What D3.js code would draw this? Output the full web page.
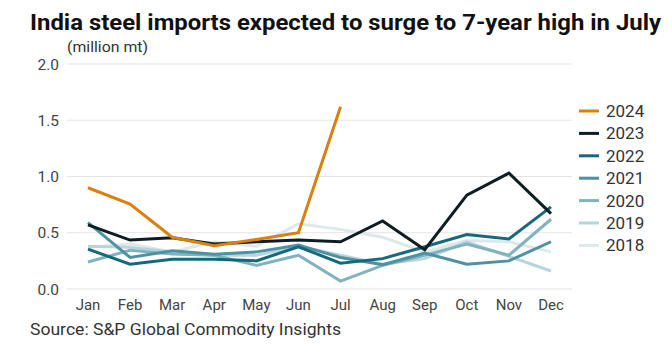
<!DOCTYPE html>
<html><head><meta charset="utf-8">
<script src="https://cdn.jsdelivr.net/npm/d3@7"></script>
<style>body{margin:0;background:#fff}svg{display:block}</style>
</head><body>
<svg id="c" width="672" height="347"></svg>
<script>
const months = ["Jan","Feb","Mar","Apr","May","Jun","Jul","Aug","Sep","Oct","Nov","Dec"];
const yTicks = [0, 0.5, 1.0, 1.5, 2.0];
const years = ["2024","2023","2022","2021","2020","2019","2018"];
const colors = ["#d9800f","#0e1d22","#16687d","#4d91a2","#80b2c0","#b7d4dd","#dbe8ec"];
const v2024 = [0.90, 0.755, 0.46, 0.385, 0.44, 0.50, 1.62];
const v2023 = [0.57, 0.435, 0.455, 0.40, 0.42, 0.435, 0.42, 0.605, 0.35, 0.835, 1.03, 0.67];
const v2022 = [0.355, 0.22, 0.265, 0.265, 0.25, 0.375, 0.23, 0.27, 0.375, 0.485, 0.445, 0.73];
const v2021 = [0.59, 0.28, 0.34, 0.31, 0.33, 0.39, 0.28, 0.215, 0.32, 0.22, 0.25, 0.42];
const v2020 = [0.24, 0.345, 0.31, 0.30, 0.21, 0.30, 0.07, 0.21, 0.30, 0.40, 0.30, 0.62];
const v2019 = [0.38, 0.37, 0.33, 0.30, 0.30, 0.38, 0.30, 0.22, 0.27, 0.42, 0.29, 0.16];
const v2018 = [0.37, 0.40, 0.33, 0.42, 0.38, 0.58, 0.53, 0.46, 0.33, 0.43, 0.42, 0.33];
const seriesValues = [v2024, v2023, v2022, v2021, v2020, v2019, v2018];

const svg = d3.select("#c");
const font = "Roboto, 'Liberation Sans', sans-serif";
const x = d3.scalePoint().domain(months).range([88, 551]);
const y = d3.scaleLinear().domain([0, 2]).range([289, 64]);

svg.append("text").attr("x", 30).attr("y", 30).attr("font-family", font)
  .attr("font-weight", 700).attr("font-size", 22).attr("fill", "#111")
  .attr("textLength", 631).attr("lengthAdjust", "spacingAndGlyphs")
  .text("India steel imports expected to surge to 7-year high in July");
svg.append("text").attr("x", 67).attr("y", 52).attr("font-family", font)
  .attr("font-size", 14.5).attr("fill", "#333")
  .attr("textLength", 81).attr("lengthAdjust", "spacingAndGlyphs").text("(million mt)");

// grid
svg.append("g").selectAll("line").data(yTicks).join("line")
  .attr("x1", 67).attr("x2", 572).attr("y1", d => y(d)).attr("y2", d => y(d))
  .attr("stroke", "#e4e4e4").attr("stroke-width", 1.2);
svg.append("g").selectAll("text").data(yTicks).join("text")
  .attr("x", 59).attr("y", d => y(d) + 5.5).attr("text-anchor", "end")
  .attr("font-family", font).attr("font-size", 15.5).attr("fill", "#444")
  .text(d => d3.format(".1f")(d));
svg.append("g").selectAll("text").data(months).join("text")
  .attr("x", d => x(d)).attr("y", 310).attr("text-anchor", "middle")
  .attr("font-family", font).attr("font-size", 15).attr("fill", "#444")
  .text(d => d);

const line = d3.line().x((d, i) => x(months[i])).y(d => y(d));
const order = [6,5,4,3,2,1,0];
svg.append("g").selectAll("path").data(order).join("path")
  .attr("d", k => line(seriesValues[k])).attr("fill", "none")
  .attr("stroke", k => colors[k]).attr("stroke-width", 3)
  .attr("stroke-linejoin", "miter");

const lg = svg.append("g").selectAll("g").data(years).join("g")
  .attr("transform", (d, i) => `translate(0,${111 + i * 22.4})`);
lg.append("line").attr("x1", 579).attr("x2", 599).attr("stroke", (d, i) => colors[i]).attr("stroke-width", 3);
lg.append("text").attr("x", 606).attr("y", 6).attr("font-family", font)
  .attr("font-size", 17).attr("fill", "#333").text(d => d);

svg.append("text").attr("x", 30).attr("y", 335).attr("font-family", font)
  .attr("font-size", 16).attr("fill", "#333")
  .attr("textLength", 311).attr("lengthAdjust", "spacingAndGlyphs")
  .text("Source: S&P Global Commodity Insights");
</script>
</body></html>
